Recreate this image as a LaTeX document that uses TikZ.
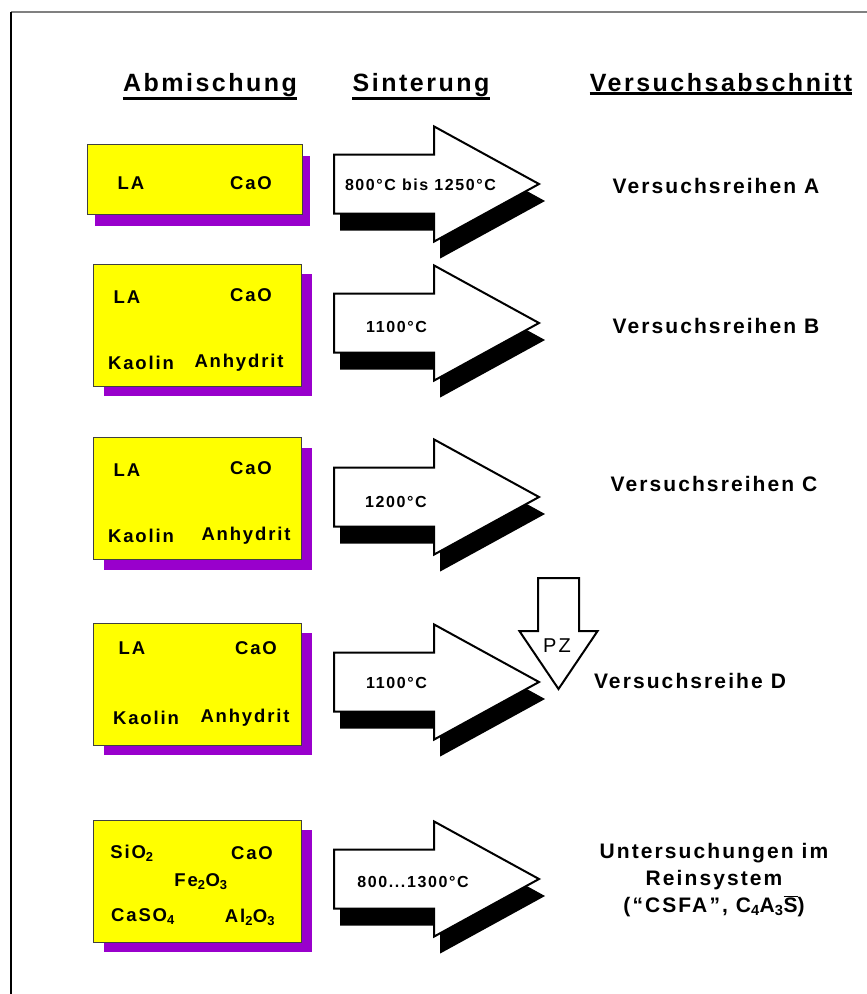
\documentclass[tikz,border=0pt]{standalone}
\usepackage{fontspec}
\setmainfont{Liberation Sans}[LetterSpace=10]
\definecolor{MixYellow}{HTML}{FFFF00}
\definecolor{MixPurple}{HTML}{9900CC}
\definecolor{MixEdge}{HTML}{404040}
\definecolor{FrameGray}{HTML}{808080}
\usetikzlibrary{shapes.arrows, shadows}
\tikzset{
    % Mixture boxes with purple shadow
    mixture base/.style={
        rectangle,
        draw=MixEdge,
        fill=MixYellow,
        line width=0.8pt,
        minimum width=208pt,
        minimum height=122pt,
        inner sep=0pt
    },
    mixture/.style={
        mixture base,
        drop shadow={fill=MixPurple, opacity=1, shadow xshift=11pt, shadow yshift=-10pt}
    },
    % Sintering arrows with black shadow
    sinter arrow/.style={
        single arrow,
        draw=black,
        fill=white,
        line width=2pt,
        minimum height=205pt,
        minimum width=113pt,
        single arrow head extend=28pt,
        single arrow tip angle=57.5,
        inner xsep=0pt,
        inner ysep=28.5pt,
        anchor=tail,
        drop shadow={fill=black, opacity=1, shadow xshift=6pt, shadow yshift=-17pt}
    },
    pz arrow/.style={
        single arrow,
        draw=black,
        fill=white,
        line width=2pt,
        minimum height=111pt,
        minimum width=76pt,
        single arrow head extend=18.5pt,
        single arrow tip angle=68,
        inner xsep=0pt,
        inner ysep=19.5pt,
        rotate=-90,
        anchor=tail
    },
    heading/.style={
        font=\bfseries\fontsize{25}{29}\selectfont,
        inner sep=0pt,
        anchor=base
    },
    mix label/.style={
        font=\bfseries\fontsize{18.5}{21}\selectfont,
        inner sep=0pt
    },
    temp label/.style={
        font=\bfseries\fontsize{16}{19}\selectfont,
        inner sep=0pt
    },
    row label/.style={
        font=\bfseries\fontsize{21}{27}\selectfont,
        align=center,
        inner sep=0pt
    },
    underline/.style={
        line width=3pt,
        black
    }
}

\begin{document}
\begin{tikzpicture}[x=1pt, y=-1pt]
        \useasboundingbox (0,0) rectangle (867,994);

        % Frame
        \draw[line width=2pt, FrameGray] (11,12) -- (867,12);
        \draw[line width=2pt, black] (11,12) -- (11,994);

        % Headings
        \node[heading] (hMix) at (210,91) {Abmischung};
        \node[heading] (hSinter) at (421,91) {Sinterung};
        \node[heading] (hSection) at (721,91) {Versuchsabschnitt};
        \draw[underline] ([yshift=-2pt]hMix.south west) -- ([yshift=-2pt]hMix.south east);
        \draw[underline] ([yshift=-2pt]hSinter.south west) -- ([yshift=-2pt]hSinter.south east);
        \draw[underline] ([yshift=-2pt]hSection.south west) -- ([yshift=-2pt]hSection.south east);

        % Series A
        \node[mixture base, minimum width=215pt, minimum height=70pt,
              drop shadow={fill=MixPurple, opacity=1, shadow xshift=8pt, shadow yshift=-11.5pt}] (mixA) at (194.5,179) {};
        \node[mix label] (laA) at (131,183) {LA};
        \node[mix label] (caoA) at (251,183) {CaO};
        \node[sinter arrow] (arrA) at (333,184) {};
        \node[temp label] (tA) at (420.5,185) {800°C bis 1250°C};
        \node[row label] (rowA) at (716,186) {Versuchsreihen A};

        % Series B
        \node[mixture] (mixB) at (197,325) {};
        \node[mix label] (laB) at (127,297) {LA};
        \node[mix label] (caoB) at (251,295) {CaO};
        \node[mix label] (kaoB) at (141,363) {Kaolin};
        \node[mix label] (anhB) at (239,363) {Anhydrit};
        \node[sinter arrow] (arrB) at (333,323) {};
        \node[temp label] (tB) at (396.5,327) {1100°C};
        \node[row label] (rowB) at (716,326) {Versuchsreihen B};

        % Series C
        \node[mixture] (mixC) at (197,498.5) {};
        \node[mix label] (laC) at (127,470) {LA};
        \node[mix label] (caoC) at (251,468) {CaO};
        \node[mix label] (kaoC) at (141,536) {Kaolin};
        \node[mix label] (anhC) at (246,536) {Anhydrit};
        \node[sinter arrow] (arrC) at (333,497) {};
        \node[temp label] (tC) at (396,502) {1200°C};
        \node[row label] (rowC) at (714,484) {Versuchsreihen C};

        % Series D
        \node[mixture] (mixD) at (197,684) {};
        \node[mix label] (laD) at (132,648) {LA};
        \node[mix label] (caoD) at (256,648) {CaO};
        \node[mix label] (kaoD) at (146,718) {Kaolin};
        \node[mix label] (anhD) at (245,718) {Anhydrit};
        \node[sinter arrow] (arrD) at (333,682) {};
        \node[temp label] (tD) at (396.5,683) {1100°C};
        \node[pz arrow] (pz) at (558.5,577) {};
        \node[font=\fontsize{20}{24}\selectfont, inner sep=0pt] (pzLabel) at (557,646) {PZ};
        \node[row label] (rowD) at (690,681) {Versuchsreihe D};

        % Pure system
        \node[mixture] (mixE) at (197,881) {};
        \node[mix label] (sioE) at (132,853) {SiO\textsubscript{2}};
        \node[mix label] (caoE) at (252,853) {CaO};
        \node[mix label] (feE) at (201,882) {Fe\textsubscript{2}O\textsubscript{3}};
        \node[mix label] (casoE) at (143,917) {CaSO\textsubscript{4}};
        \node[mix label] (alE) at (250,917) {Al\textsubscript{2}O\textsubscript{3}};
        \node[sinter arrow] (arrE) at (333,879) {};
        \node[temp label] (tE) at (413,882) {800...1300°C};
        \node[row label] (rowE) at (714,880) {Untersuchungen im\\Reinsystem\\(“CSFA”, C\textsubscript{4}A\textsubscript{3}$\overline{\mbox{S}}$)};
    \end{tikzpicture}
\end{document}
